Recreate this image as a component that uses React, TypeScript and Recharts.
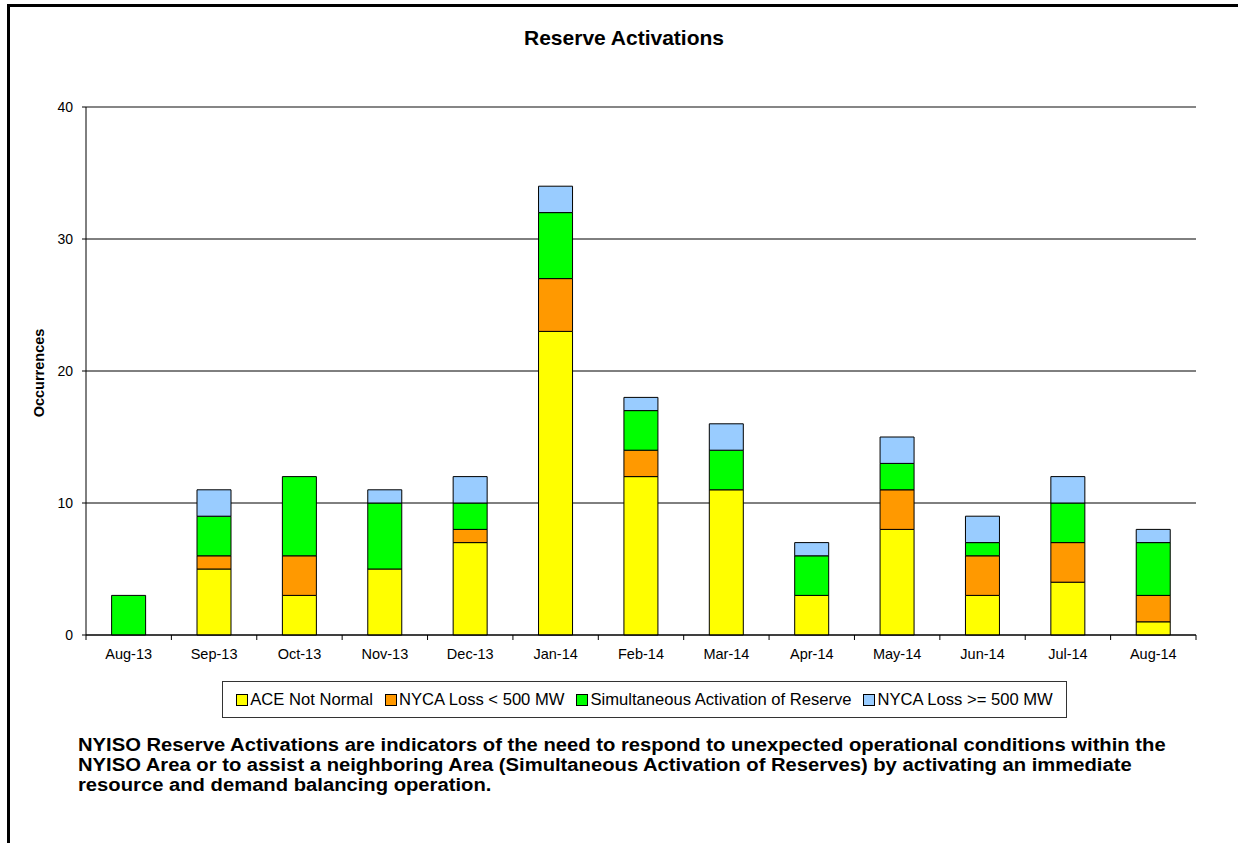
import React from 'react';
import {
  BarChart,
  Bar,
  XAxis,
  YAxis,
  CartesianGrid,
  ReferenceLine,
} from 'recharts';

const months = ['Aug-13', 'Sep-13', 'Oct-13', 'Nov-13', 'Dec-13', 'Jan-14', 'Feb-14', 'Mar-14', 'Apr-14', 'May-14', 'Jun-14', 'Jul-14', 'Aug-14'];
const aceNotNormal = [0, 5, 3, 5, 7, 23, 12, 11, 3, 8, 3, 4, 1];
const nycaLossSmall = [0, 1, 3, 0, 1, 4, 2, 0, 0, 3, 3, 3, 2];
const simultaneous = [3, 3, 6, 5, 2, 5, 3, 3, 3, 2, 1, 3, 4];
const nycaLossLarge = [0, 2, 0, 1, 2, 2, 1, 2, 1, 2, 2, 2, 1];
const yTicks = [0, 10, 20, 30, 40];

const series = [
  { key: 'ace', name: 'ACE Not Normal', color: '#FFFF00' },
  { key: 'small', name: 'NYCA Loss < 500 MW', color: '#FF9900' },
  { key: 'sim', name: 'Simultaneous Activation of Reserve', color: '#00FF00' },
  { key: 'large', name: 'NYCA Loss >= 500 MW', color: '#99CCFF' },
];

const data = months.map((m, i) => ({
  name: m,
  ace: aceNotNormal[i],
  small: nycaLossSmall[i],
  sim: simultaneous[i],
  large: nycaLossLarge[i],
}));

const FONT = '"Liberation Sans", Arial, sans-serif';
const PLOT_LEFT = 86;
const PLOT_RIGHT = 1196;
const BAND = (PLOT_RIGHT - PLOT_LEFT) / months.length;

// x tick: marks sit on category boundaries, Excel style
const MonthTick = (props: any) => {
  const { x, y, payload, index } = props;
  const left = x - BAND / 2;
  return (
    <g>
      <line x1={left} y1={y - 8} x2={left} y2={y - 3} stroke="#000" />
      {index === months.length - 1 && (
        <line x1={x + BAND / 2} y1={y - 8} x2={x + BAND / 2} y2={y - 3} stroke="#000" />
      )}
      <text x={x} y={y + 16} textAnchor="middle" fontSize={14.5} fill="#000" fontFamily={FONT}>
        {payload.value}
      </text>
    </g>
  );
};

export default function App() {
  return (
    <div style={{ position: 'fixed', left: 0, top: 0, width: 1238, height: 843, background: '#fff', fontFamily: FONT, overflow: 'hidden' }}>
      <div style={{ position: 'absolute', left: 7, top: 4, width: 1260, height: 842, border: '3px solid #000', boxSizing: 'border-box' }} />
      <div style={{ position: 'absolute', left: 424, width: 400, top: 27, textAlign: 'center', fontWeight: 'bold', fontSize: 21, lineHeight: '21px', color: '#000' }}>
        Reserve Activations
      </div>
      <div style={{ position: 'absolute', left: 29, top: 302, width: 20, height: 142 }}>
        <div style={{ position: 'absolute', left: 10, top: 71, transform: 'translate(-50%, -50%) rotate(-90deg)', fontWeight: 'bold', fontSize: 14.5, whiteSpace: 'nowrap' }}>
          Occurrences
        </div>
      </div>
      <div style={{ position: 'absolute', left: 0, top: 0 }}>
        <BarChart
          width={1238}
          height={843}
          data={data}
          margin={{ top: 107, right: 1238 - PLOT_RIGHT, bottom: 843 - 635 - 30, left: PLOT_LEFT - 60 }}
          barCategoryGap="30%"
        >
          <CartesianGrid vertical={false} stroke="#000" />
          <ReferenceLine y={40} stroke="#888" strokeWidth={1.5} />
          <XAxis
            dataKey="name"
            height={30}
            interval={0}
            tickLine={false}
            axisLine={{ stroke: '#000' }}
            tick={<MonthTick />}
          />
          <YAxis
            width={60}
            domain={[0, 40]}
            ticks={yTicks}
            interval={0}
            tickSize={4}
            tickMargin={9}
            axisLine={{ stroke: '#000' }}
            tickLine={{ stroke: '#000' }}
            tick={{ fontSize: 14, fill: '#000', fontFamily: FONT }}
          />
          <YAxis
            yAxisId="r"
            orientation="right"
            width={0}
            domain={[0, 40]}
            tick={false}
            tickLine={false}
            axisLine={{ stroke: '#888', strokeWidth: 1.5 }}
          />
          {series.map((s) => (
            <Bar
              key={s.key}
              dataKey={s.key}
              name={s.name}
              stackId="a"
              fill={s.color}
              stroke="#000"
              strokeWidth={1}
              isAnimationActive={false}
            />
          ))}
        </BarChart>
      </div>
      <div
        style={{
          position: 'absolute',
          left: 222,
          top: 681,
          width: 845,
          height: 37,
          border: '1px solid #333',
          boxSizing: 'border-box',
          display: 'flex',
          alignItems: 'center',
          justifyContent: 'center',
          gap: 12,
          fontSize: 16.6,
          whiteSpace: 'nowrap',
        }}
      >
        {series.map((s) => (
          <span key={s.key} style={{ display: 'flex', alignItems: 'center', flexShrink: 0, whiteSpace: 'nowrap' }}>
            <span style={{ display: 'inline-block', width: 10, height: 10, background: s.color, border: '1px solid #000', marginRight: 2, flexShrink: 0 }} />
            {s.name}
          </span>
        ))}
      </div>
      <div style={{ position: 'absolute', left: 78, top: 735, fontWeight: 'bold', fontSize: 18, lineHeight: '20px', whiteSpace: 'pre', transform: 'scaleX(1.123)', transformOrigin: 'left top' }}>
        {'NYISO Reserve Activations are indicators of the need to respond to unexpected operational conditions within the\nNYISO Area or to assist a neighboring Area (Simultaneous Activation of Reserves) by activating an immediate\nresource and demand balancing operation.'}
      </div>
    </div>
  );
}
